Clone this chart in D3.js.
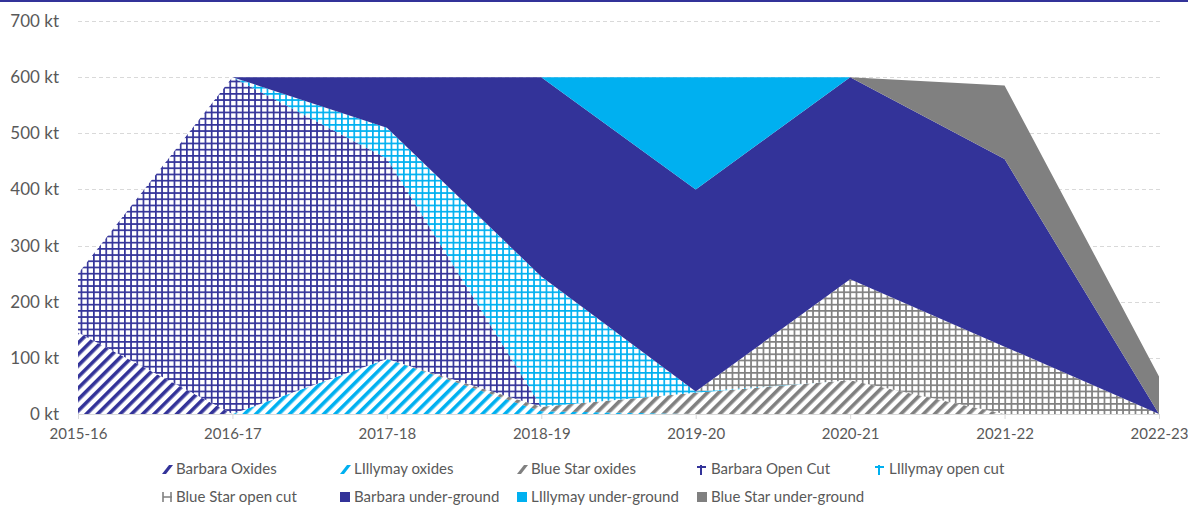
<!DOCTYPE html>
<html>
<head>
<meta charset="utf-8">
<script src="https://cdn.jsdelivr.net/npm/d3@7"></script>
<style>
  body { margin: 0; background: #fff; }
  svg text { font-family: Lato, "Open Sans", sans-serif; fill: #595959; }
</style>
</head>
<body>
<svg id="chart" width="1188" height="506"></svg>
<script>
// Categories (financial years)
var years = ['2015-16', '2016-17', '2017-18', '2018-19', '2019-20', '2020-21', '2021-22', '2022-23'];

// Series values in kt
var barbaraOxides       = [145,   0,   0,   0,   0,   0,   0,  0];
var lillymayOxides      = [  0,   0,  98,   5,   0,   0,   0,  0];
var blueStarOxides      = [  0,   0,   0,   8,  38,  60,   0,  0];
var barbaraOpenCut      = [105, 600, 357,   0,   0,   0,   0,  0];
var lillymayOpenCut     = [  0,   0,  55, 232,   2,   0,   0,  0];
var blueStarOpenCut     = [  0,   0,   0,   0,   0, 180, 120,  0];
var barbaraUnderground  = [  0,   0,  90, 355, 360, 360, 334,  0];
var lillymayUnderground = [  0,   0,   0,   0, 200,   0,   0,  0];
var blueStarUnderground = [  0,   0,   0,   0,   0,   0, 131, 67];

var seriesNames = ['Barbara Oxides', 'LIllymay oxides', 'Blue Star oxides',
  'Barbara Open Cut', 'LIllymay open cut', 'Blue Star open cut',
  'Barbara under-ground', 'LIllymay under-ground', 'Blue Star under-ground'];
var seriesValues = [barbaraOxides, lillymayOxides, blueStarOxides,
  barbaraOpenCut, lillymayOpenCut, blueStarOpenCut,
  barbaraUnderground, lillymayUnderground, blueStarUnderground];

var yTicks = [0, 100, 200, 300, 400, 500, 600, 700];

// colours per mine and fill kind per ore type
var mineColor = ['#333399', '#00b0f0', '#808080'];
var kinds = ['diag', 'grid', 'solid'];

// build rows for d3.stack
var rows = years.map(function (yr, i) {
  var row = { year: yr };
  seriesNames.forEach(function (name, s) { row[name] = seriesValues[s][i]; });
  return row;
});

var svg = d3.select('#chart');
var defs = svg.append('defs');

// hatch patterns like the Excel fills
function fillFor(s) {
  var kind = kinds[Math.floor(s / 3)];
  var color = mineColor[s % 3];
  if (kind === 'solid') return color;
  var id = 'pat' + s;
  if (kind === 'diag') {
    var p = defs.append('pattern').attr('id', id)
      .attr('patternUnits', 'userSpaceOnUse')
      .attr('width', 8).attr('height', 8)
      .attr('patternTransform', 'rotate(45)');
    p.append('rect').attr('width', 8).attr('height', 8).attr('fill', '#fff');
    p.append('rect').attr('width', 3.6).attr('height', 8).attr('fill', color);
  } else {
    var sz = 6.2;
    var g = defs.append('pattern').attr('id', id)
      .attr('patternUnits', 'userSpaceOnUse')
      .attr('width', sz).attr('height', sz);
    g.append('rect').attr('width', sz).attr('height', sz).attr('fill', '#fff');
    g.append('rect').attr('width', 1.7).attr('height', sz).attr('fill', color);
    g.append('rect').attr('width', sz).attr('height', 1.7).attr('fill', color);
  }
  return 'url(#' + id + ')';
}
var fills = seriesNames.map(function (n, s) { return fillFor(s); });

// top border line
svg.append('rect').attr('x', 0).attr('y', 0).attr('width', 1188).attr('height', 2).attr('fill', '#333399');

var x = d3.scalePoint().domain(years).range([78, 1159]);
var y = d3.scaleLinear().domain([0, 700]).range([414, 21]);

// gridlines
svg.append('g').selectAll('line')
  .data(yTicks.filter(function (t) { return t > 0; }))
  .enter().append('line')
  .attr('x1', 78).attr('x2', 1160)
  .attr('y1', function (d) { return Math.round(y(d)) + 0.5; })
  .attr('y2', function (d) { return Math.round(y(d)) + 0.5; })
  .attr('stroke', '#d9d9d9').attr('stroke-width', 1)
  .attr('stroke-dasharray', '4,3');

// stacked areas
var stack = d3.stack().keys(seriesNames);
var layers = stack(rows);
var area = d3.area()
  .x(function (d) { return x(d.data.year); })
  .y0(function (d) { return y(d[0]); })
  .y1(function (d) { return y(d[1]); });

svg.append('g').selectAll('path')
  .data(layers)
  .enter().append('path')
  .attr('d', area)
  .attr('fill', function (d, i) { return fills[i]; });

// x axis
var xAxis = svg.append('g')
  .attr('transform', 'translate(0,414)')
  .call(d3.axisBottom(x).tickSize(5).tickPadding(9));
xAxis.select('.domain').attr('stroke', '#d9d9d9').attr('d', 'M78.5,0.5H1159.5');
xAxis.selectAll('.tick line').attr('stroke', '#d9d9d9');
xAxis.selectAll('text').attr('font-size', 15).style('fill', '#595959');

// y axis labels
var yAxis = svg.append('g')
  .attr('transform', 'translate(66,0)')
  .call(d3.axisLeft(y).tickValues(yTicks).tickSize(0).tickPadding(7)
    .tickFormat(function (d) { return d + ' kt'; }));
yAxis.select('.domain').remove();
yAxis.selectAll('text').attr('font-size', 17).style('fill', '#595959');

// legend
var legendPos = [[162, 469], [340, 469], [517, 469], [697, 469], [875, 469],
  [162, 497], [340, 497], [517, 497], [697, 497]];

var legend = svg.append('g').selectAll('g')
  .data(seriesNames)
  .enter().append('g')
  .attr('transform', function (d, i) { return 'translate(' + legendPos[i][0] + ',' + legendPos[i][1] + ')'; });

legend.each(function (d, i) {
  var g = d3.select(this);
  var kind = kinds[Math.floor(i / 3)];
  var color = mineColor[i % 3];
  if (kind === 'solid') {
    g.append('rect').attr('x', 0).attr('y', -5).attr('width', 10).attr('height', 10).attr('fill', color);
  } else if (kind === 'diag') {
    g.append('path').attr('d', 'M0,5 L4,5 L11,-4 L7,-4 Z').attr('fill', color);
  } else if (i === 5) {
    g.append('path').attr('d', 'M1,-5V5M9,-5V5M1,0H10')
      .attr('stroke', color).attr('stroke-width', 1.6).attr('fill', 'none');
  } else {
    g.append('path').attr('d', 'M4,-4V6M0,-2H9')
      .attr('stroke', color).attr('stroke-width', 2).attr('fill', 'none');
  }
  g.append('text').attr('x', 14).attr('y', 0).attr('dy', '0.35em')
    .attr('font-size', 15).text(d);
});
</script>
</body>
</html>
